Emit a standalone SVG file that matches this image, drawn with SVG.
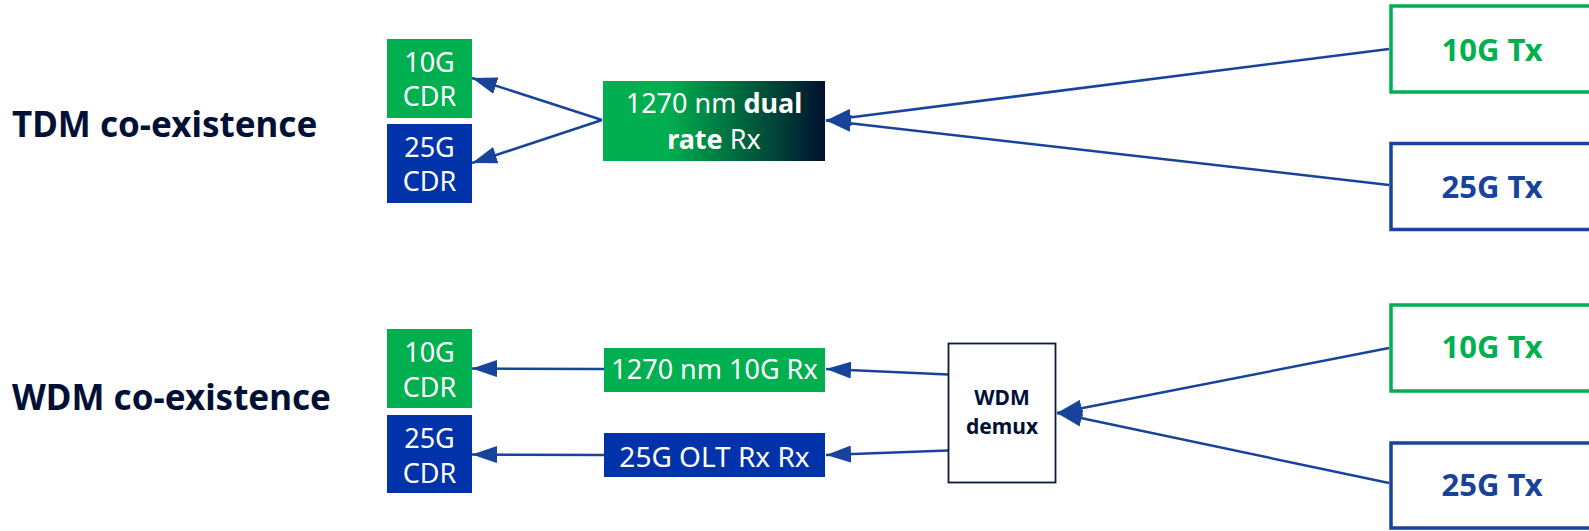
<svg xmlns="http://www.w3.org/2000/svg" width="1589" height="531" viewBox="0 0 1589 531">
<style>
  .hd { font-family: "Noto Sans", "Liberation Sans", sans-serif; font-weight: bold; font-size: 35px; fill: #001135; }
  .wt { font-family: "Noto Sans", "Liberation Sans", sans-serif; font-size: 27px; fill: #ffffff; text-anchor: middle; }
  .b { font-weight: bold; }
  .tx { font-family: "Noto Sans", "Liberation Sans", sans-serif; font-weight: bold; font-size: 31px; text-anchor: middle; }
  .dm { font-family: "Noto Sans", "Liberation Sans", sans-serif; font-weight: bold; font-size: 21px; fill: #001135; text-anchor: middle; }
  .green { fill: #00b050; }
  .blue { fill: #0033aa; }
  .conn { stroke: #17439a; stroke-width: 2.5; fill: none; marker-end: url(#arr); }
</style>
<defs>
  <marker id="arr" markerUnits="userSpaceOnUse" markerWidth="25" markerHeight="17" refX="25" refY="8.5" orient="auto">
    <path d="M0,0 L25,8.5 L0,17 Z" fill="#17439a"/>
  </marker>
  <linearGradient id="grad" x1="0" y1="0" x2="1" y2="0">
    <stop offset="0" stop-color="#00b050"/>
    <stop offset="0.3" stop-color="#00ad4f"/>
    <stop offset="0.65" stop-color="#00603c"/>
    <stop offset="1" stop-color="#00112f"/>
  </linearGradient>
</defs>

<g id="label-tdm"><text class="hd" x="12" y="137">TDM co-existence</text></g>
<g id="label-wdm"><text class="hd" x="12" y="410">WDM co-existence</text></g>

<g id="connectors">
  <line class="conn" x1="602" y1="120" x2="472" y2="78"/>
  <line class="conn" x1="602" y1="120" x2="472" y2="163"/>
  <line class="conn" x1="1389" y1="49" x2="826" y2="120.5"/>
  <line class="conn" x1="1389" y1="185" x2="826" y2="120.5"/>
  <line class="conn" x1="604" y1="369" x2="472" y2="368.5"/>
  <line class="conn" x1="604" y1="455" x2="472" y2="454.5"/>
  <line class="conn" x1="948" y1="374.5" x2="826" y2="369"/>
  <line class="conn" x1="948" y1="450.5" x2="826" y2="455"/>
  <line class="conn" x1="1389" y1="348" x2="1057" y2="413"/>
  <line class="conn" x1="1389" y1="483" x2="1057" y2="413"/>
</g>

<g id="tdm-10g-cdr">
  <rect x="387" y="39" width="85" height="79" class="green"/>
  <text class="wt" x="429.5" y="72">10G</text>
  <text class="wt" x="429.5" y="106">CDR</text>
</g>
<g id="tdm-25g-cdr">
  <rect x="387" y="124" width="85" height="79" class="blue"/>
  <text class="wt" x="429.5" y="157">25G</text>
  <text class="wt" x="429.5" y="191">CDR</text>
</g>
<g id="tdm-dual-rx">
  <rect x="603" y="81" width="222" height="80" fill="url(#grad)"/>
  <text class="wt" x="714" y="113">1270 nm <tspan class="b">dual</tspan></text>
  <text class="wt" x="714" y="149"><tspan class="b">rate</tspan> Rx</text>
</g>
<g id="tdm-10g-tx">
  <rect x="1391" y="6" width="220" height="86" fill="#ffffff" stroke="#00b050" stroke-width="3.5"/>
  <text class="tx green" x="1492" y="61">10G Tx</text>
</g>
<g id="tdm-25g-tx">
  <rect x="1391" y="143.5" width="220" height="86" fill="#ffffff" stroke="#17439a" stroke-width="3.5"/>
  <text class="tx" fill="#17439a" x="1492" y="198">25G Tx</text>
</g>

<g id="wdm-10g-cdr">
  <rect x="387" y="329" width="85" height="79" class="green"/>
  <text class="wt" x="429.5" y="362">10G</text>
  <text class="wt" x="429.5" y="397">CDR</text>
</g>
<g id="wdm-25g-cdr">
  <rect x="387" y="415" width="85" height="78" class="blue"/>
  <text class="wt" x="429.5" y="448">25G</text>
  <text class="wt" x="429.5" y="483">CDR</text>
</g>
<g id="wdm-10g-rx">
  <rect x="604" y="348" width="221" height="44" class="green"/>
  <text class="wt" x="714.5" y="379">1270 nm 10G Rx</text>
</g>
<g id="wdm-25g-rx">
  <rect x="604" y="433" width="221" height="44" class="blue"/>
  <text class="wt" x="714.5" y="467" style="font-size:28px">25G OLT Rx Rx</text>
</g>
<g id="wdm-demux">
  <rect x="948.5" y="343.5" width="107" height="139" fill="#ffffff" stroke="#0b1a3f" stroke-width="1.8"/>
  <text class="dm" x="1002" y="405">WDM</text>
  <text class="dm" x="1002" y="434">demux</text>
</g>
<g id="wdm-10g-tx">
  <rect x="1391" y="305" width="220" height="86" fill="#ffffff" stroke="#00b050" stroke-width="3.5"/>
  <text class="tx green" x="1492" y="358">10G Tx</text>
</g>
<g id="wdm-25g-tx">
  <rect x="1391" y="443" width="220" height="85" fill="#ffffff" stroke="#17439a" stroke-width="3.5"/>
  <text class="tx" fill="#17439a" x="1492" y="496">25G Tx</text>
</g>
</svg>
